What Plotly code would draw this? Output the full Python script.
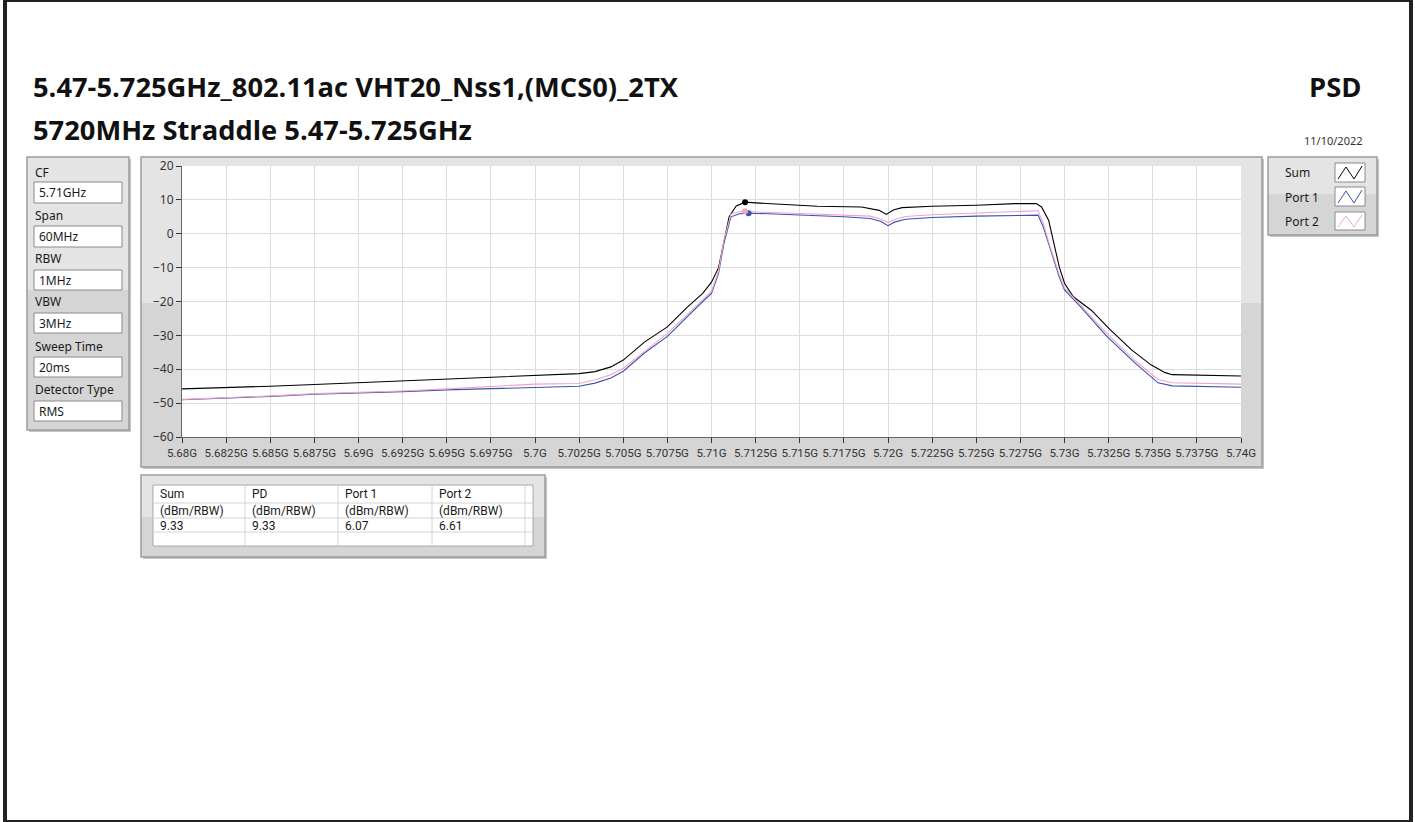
import plotly.graph_objects as go

# ---------------- data ----------------
sum_freq = [5.6800, 5.6825, 5.6850, 5.6875, 5.6900, 5.6925, 5.6950, 5.6975, 5.7000, 5.7025,
            5.7034, 5.7043, 5.7050, 5.7062, 5.7075, 5.7086, 5.7095, 5.7100, 5.7104, 5.7107,
            5.7110, 5.7114, 5.7119, 5.7125, 5.7143, 5.7160, 5.7185, 5.7195, 5.7199, 5.7203,
            5.7208, 5.7225, 5.7250, 5.7272, 5.7284, 5.7287, 5.7291, 5.7294, 5.7297, 5.7300,
            5.7305, 5.7315, 5.7326, 5.7338, 5.7349, 5.7357, 5.7361, 5.7400]
sum_dbm = [-45.8, -45.5, -45.0, -44.5, -44.0, -43.5, -43.0, -42.4, -41.8, -41.3,
           -40.7, -39.3, -37.3, -32.0, -27.5, -21.8, -17.6, -14.3, -10.0, -2.5,
           5.0, 8.2, 9.33, 9.1, 8.7, 8.1, 7.9, 6.9, 5.7, 7.0,
           7.7, 8.1, 8.4, 8.9, 8.9, 7.9, 4.0, -2.9, -9.7, -14.6,
           -18.6, -22.5, -28.4, -34.3, -38.7, -41.0, -41.6, -42.0]

p1_freq = [5.6800, 5.6825, 5.6850, 5.6875, 5.6900, 5.6925, 5.6950, 5.6975, 5.7000, 5.7025,
           5.7034, 5.7043, 5.7050, 5.7062, 5.7075, 5.7086, 5.7095, 5.7100, 5.7104, 5.7107,
           5.7111, 5.7116, 5.7121, 5.7127, 5.7150, 5.7175, 5.7190, 5.7196, 5.7200, 5.7204,
           5.7210, 5.7225, 5.7250, 5.7275, 5.7285, 5.7288, 5.7292, 5.7297, 5.7300, 5.7309,
           5.7324, 5.7340, 5.7353, 5.7361, 5.7400]
p1_dbm = [-49.0, -48.6, -48.0, -47.4, -47.1, -46.6, -46.1, -45.7, -45.5, -45.0,
          -44.1, -42.6, -40.6, -35.2, -30.3, -24.5, -20.0, -17.6, -11.7, -2.9,
          5.0, 5.9, 6.07, 6.0, 5.6, 5.0, 4.5, 3.6, 2.4, 3.5,
          4.3, 4.8, 5.2, 5.5, 5.5, 2.0, -4.8, -12.7, -16.6, -21.5,
          -30.3, -38.2, -44.0, -44.9, -45.3]

p2_freq = [5.6800, 5.6825, 5.6850, 5.6875, 5.6900, 5.6925, 5.6950, 5.6975, 5.7000, 5.7025,
           5.7034, 5.7043, 5.7050, 5.7062, 5.7075, 5.7086, 5.7095, 5.7100, 5.7104, 5.7107,
           5.7111, 5.7115, 5.7119, 5.7126, 5.7150, 5.7175, 5.7190, 5.7196, 5.7200, 5.7204,
           5.7210, 5.7225, 5.7250, 5.7275, 5.7285, 5.7288, 5.7292, 5.7297, 5.7300, 5.7309,
           5.7324, 5.7340, 5.7353, 5.7361, 5.7400]
p2_dbm = [-48.9, -48.5, -47.9, -47.2, -46.9, -46.4, -45.8, -45.1, -44.4, -44.2,
          -43.1, -41.6, -39.7, -34.8, -29.4, -24.0, -19.6, -17.0, -11.0, -2.0,
          5.8, 6.4, 6.61, 6.4, 6.0, 5.5, 5.2, 4.3, 3.3, 4.3,
          5.1, 5.6, 6.0, 6.6, 6.8, 3.0, -4.0, -12.0, -16.0, -21.0,
          -29.5, -37.5, -43.0, -44.0, -44.4]

marker_freq = [5.7119, 5.7121, 5.7119]
marker_dbm = [9.33, 6.07, 6.61]

x_tickvals = [5.68, 5.6825, 5.685, 5.6875, 5.69, 5.6925, 5.695, 5.6975, 5.70, 5.7025, 5.705,
              5.7075, 5.71, 5.7125, 5.715, 5.7175, 5.72, 5.7225, 5.725, 5.7275, 5.73, 5.7325,
              5.735, 5.7375, 5.74]
x_ticktext = ["5.68G", "5.6825G", "5.685G", "5.6875G", "5.69G", "5.6925G", "5.695G", "5.6975G",
              "5.7G", "5.7025G", "5.705G", "5.7075G", "5.71G", "5.7125G", "5.715G", "5.7175G",
              "5.72G", "5.7225G", "5.725G", "5.7275G", "5.73G", "5.7325G", "5.735G", "5.7375G",
              "5.74G"]
y_tickvals = [-60, -50, -40, -30, -20, -10, 0, 10, 20]

settings_labels = ["CF", "Span", "RBW", "VBW", "Sweep Time", "Detector Type"]
settings_values = ["5.71GHz", "60MHz", "1MHz", "3MHz", "20ms", "RMS"]

table_headers = ["Sum", "PD", "Port 1", "Port 2"]
table_units = ["(dBm/RBW)", "(dBm/RBW)", "(dBm/RBW)", "(dBm/RBW)"]
table_values = ["9.33", "9.33", "6.07", "6.61"]

series_names = ["Sum", "Port 1", "Port 2"]
series_colors = ["#000000", "#3553b3", "#f4a3c4"]

title1 = "5.47-5.725GHz_802.11ac VHT20_Nss1,(MCS0)_2TX"
title2 = "5720MHz Straddle 5.47-5.725GHz"
date_text = "11/10/2022"

# ---------------- geometry helpers ----------------
W, H = 1415, 822
PL, PR, PT, PB = 182, 1241, 166, 437


def X(px):
    return (px - PL) / (PR - PL)


def Y(py):
    return (PB - py) / (PB - PT)


shapes = []
annotations = []


def rect(x0, y0, x1, y1, fill=None, line=None, lw=1, layer="below"):
    shapes.append(dict(type="rect", xref="paper", yref="paper",
                       x0=X(x0), x1=X(x1), y0=Y(y1), y1=Y(y0),
                       fillcolor=fill if fill else "rgba(0,0,0,0)",
                       line=dict(color=line if line else "rgba(0,0,0,0)", width=lw if line else 0),
                       layer=layer))


def hline(x0, x1, y, color, lw=1, layer="below"):
    shapes.append(dict(type="line", xref="paper", yref="paper",
                       x0=X(x0), x1=X(x1), y0=Y(y), y1=Y(y),
                       line=dict(color=color, width=lw), layer=layer))


def vline(x, y0, y1, color, lw=1, layer="below"):
    shapes.append(dict(type="line", xref="paper", yref="paper",
                       x0=X(x), x1=X(x), y0=Y(y0), y1=Y(y1),
                       line=dict(color=color, width=lw), layer=layer))


def text(px, py, s, size=12, color="#1a1a1a", bold=False, anchor="left", family="Noto Sans"):
    annotations.append(dict(xref="paper", yref="paper", x=X(px), y=Y(py), text=s,
                            showarrow=False, xanchor=anchor, yanchor="middle",
                            borderpad=0,
                            font=dict(size=size, color=color, family=family,
                                      weight="bold" if bold else "normal")))


def panel(x0, y0, x1, y1, split):
    rect(x0 + 2, y0 + 2, x1 + 2, y1 + 2, fill="#c4c4c4")
    rect(x0, y0, x1, split, fill="#e4e4e4")
    rect(x0, split, x1, y1, fill="#d5d5d5")
    rect(x0, y0, x1, y1, line="#9c9c9c", lw=1.5)


# page frame
rect(3, 0, 7, 822, fill="#222222")
rect(3, 0, 1413, 2, fill="#222222")
rect(1409, 0, 1413, 822, fill="#222222")
rect(3, 820, 1413, 822, fill="#222222")

# titles
text(32, 87, title1, size=27.3, color="#111111", bold=True, family="Open Sans")
text(32, 129, title2, size=27.3, color="#111111", bold=True, family="Open Sans")
text(1362, 87, "PSD", size=27.3, color="#111111", bold=True, anchor="right", family="Open Sans")
text(1364, 141, date_text, size=11, color="#333333", anchor="right")

# settings panel
panel(27, 157, 129, 430, 290)
label_y = [172, 215, 258, 301, 346, 389]
box_y = [(182, 203), (226, 247), (270, 290), (313, 333), (357, 377), (401, 421)]
for lab, val, ly, (b0, b1) in zip(settings_labels, settings_values, label_y, box_y):
    text(34, ly, lab, size=12)
    rect(34, b0, 122, b1, fill="#ffffff", line="#8a8a8a", lw=1)
    text(38, (b0 + b1) / 2, val, size=12)

# graph panel
panel(141, 157, 1262, 467, 303)
rect(PL, PT, PR, PB, fill="#ffffff")

# legend panel
panel(1268, 157, 1377, 235, 194)
leg_y = [172, 197, 221]
icon_y = [(163, 182), (187, 206), (212, 230)]
for name, col, ly, (b0, b1) in zip(series_names, series_colors, leg_y, icon_y):
    text(1284, ly, name, size=12)
    rect(1335, b0, 1365, b1, fill="#ffffff", line="#8a8a8a", lw=1)
    pts = [(1338, b1 - 3), (1346, b0 + 4), (1354, b1 - 3), (1362, b0 + 3)]
    path = "M " + " L ".join(f"{X(a)},{Y(b)}" for a, b in pts)
    shapes.append(dict(type="path", xref="paper", yref="paper", path=path,
                       line=dict(color=col, width=1), layer="below"))

# result table panel
panel(141, 475, 545, 557, 517)
rect(153, 485, 533, 546, fill="#ffffff", line="#a8a8a8", lw=1)
for yy in [503, 518, 532]:
    hline(153, 533, yy, "#d4d4d4")
for xx in [245, 338, 432, 525]:
    vline(xx, 485, 546, "#d4d4d4")
col_x = [159, 251, 344, 438]
for cx, h, u, v in zip(col_x, table_headers, table_units, table_values):
    text(cx, 493.5, h, size=12, family="Roboto")
    text(cx, 510.5, u, size=12, family="Roboto")
    text(cx, 526, v, size=12, family="Roboto")

# ---------------- figure ----------------
fig = go.Figure()
for fx, fy, name, col in zip([sum_freq, p1_freq, p2_freq], [sum_dbm, p1_dbm, p2_dbm],
                             series_names, series_colors):
    fig.add_trace(go.Scatter(x=fx, y=fy, mode="lines", name=name,
                             line=dict(color=col, width=1.1)))
fig.add_trace(go.Scatter(x=marker_freq, y=marker_dbm, mode="markers",
                         marker=dict(color=[series_colors[0], series_colors[1], series_colors[2]], size=6),
                         showlegend=False))

fig.update_layout(
    width=W, height=H,
    margin=dict(l=PL, r=W - PR, t=PT, b=H - PB),
    paper_bgcolor="#ffffff", plot_bgcolor="#ffffff",
    showlegend=False,
    shapes=shapes, annotations=annotations,
    font=dict(family="Noto Sans", size=12, color="#333333"),
)
fig.update_xaxes(range=[5.68, 5.74], tickvals=x_tickvals, ticktext=x_ticktext,
                 tickangle=0,
                 showgrid=True, gridcolor="#dcdcdc", gridwidth=1,
                 showline=True, linecolor="#666666", linewidth=1,
                 ticks="outside", ticklen=5, tickcolor="#333333",
                 tickfont=dict(size=11.5, color="#333333", family="Roboto"),
                 zeroline=False, fixedrange=True)
fig.update_yaxes(range=[-60, 20], tickvals=y_tickvals,
                 showgrid=True, gridcolor="#dcdcdc", gridwidth=1,
                 showline=True, linecolor="#666666", linewidth=1,
                 ticks="outside", ticklen=5, tickcolor="#333333",
                 tickfont=dict(size=12, color="#333333", family="Noto Sans"),
                 zeroline=False, fixedrange=True)

fig.write_html("out.html", config={"displayModeBar": False},
               post_script="document.body.style.margin='0';document.body.style.overflow='hidden';")
